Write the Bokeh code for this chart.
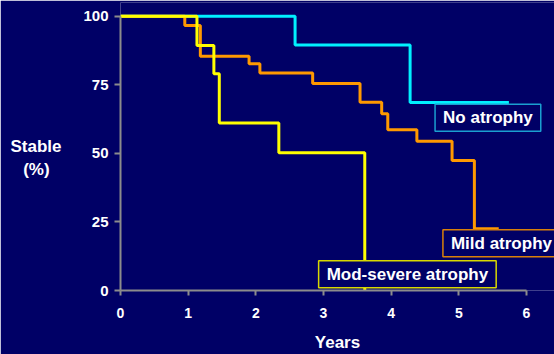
from bokeh.plotting import figure
from bokeh.models import Range1d, Label, FixedTicker
from bokeh.embed import file_html
from bokeh.resources import INLINE

# Kaplan-Meier style step data (years, % stable)
no_t = [0, 2.58, 4.28, 5.74]
no_s = [100, 89.5, 68.5, 68.5]

mild_t = [0, 0.95, 1.18, 1.90, 2.06, 2.84, 3.54, 3.86, 3.95, 4.38, 4.90, 5.23, 5.59]
mild_s = [100, 96.6, 85.4, 82.7, 79.3, 75.5, 68.6, 64.4, 58.6, 54.4, 47.4, 22.5, 22.5]

mod_t = [0, 1.13, 1.38, 1.46, 2.34, 3.61]
mod_s = [100, 89.3, 79.0, 61.1, 50.2, 0]

x_ticks = [0, 1, 2, 3, 4, 5, 6]
y_ticks = [0, 25, 50, 75, 100]

BG = "#000066"
FONT = "Liberation Sans"

p = figure(width=554, height=354, output_backend="svg", toolbar_location=None,
           x_range=Range1d(0, 6.414), y_range=Range1d(0, 105),
           min_border_left=120, min_border_right=0, min_border_top=2, min_border_bottom=64)
p.background_fill_color = BG
p.border_fill_color = BG
p.outline_line_color = None
p.grid.grid_line_color = None

for ax, ticks, bnd in ((p.xaxis, x_ticks, (0, 6)), (p.yaxis, y_ticks, (0, 100))):
    ax.ticker = FixedTicker(ticks=ticks)
    ax.bounds = bnd
    ax.axis_line_color = "#8c8c8c"
    ax.axis_line_width = 2
    ax.major_tick_line_color = "#8c8c8c"
    ax.major_tick_line_width = 2
    ax.minor_tick_line_color = None
    ax.major_tick_in = 0
    ax.major_label_text_color = "white"
    ax.major_label_text_font = FONT
    ax.major_label_text_font_style = "bold"
    ax.axis_label_text_color = "white"
    ax.axis_label_text_font = FONT
    ax.axis_label_text_font_style = "bold"
    ax.axis_label_text_font_size = "17px"

p.xaxis.major_label_text_font_size = "14px"
p.xaxis.major_tick_out = 5
p.xaxis.major_label_standoff = 12
p.xaxis.axis_label = "Years"
p.xaxis.axis_label_standoff = 12

p.yaxis.major_label_text_font_size = "15px"
p.yaxis.major_tick_out = 6
p.yaxis.major_label_standoff = 6
p.yaxis.axis_label = "\nStable\n(%)\u2002\u2009"
p.yaxis.axis_label_orientation = "horizontal"
p.yaxis.axis_label_standoff = 19

p.step(no_t, no_s, mode="after", line_color="#00f0ff", line_width=3)
p.step(mild_t, mild_s, mode="after", line_color="#ff9900", line_width=3)
p.step(mod_t, mod_s, mode="after", line_color="#ffff00", line_width=3)

def box(text, x, y, border):
    lab = Label(x=x, y=y, text=text, text_align="center", text_baseline="middle",
                text_color="white", text_font=FONT, text_font_style="bold",
                text_font_size="17px", background_fill_color=BG,
                border_line_color=border, border_line_width=1.5,
                padding=dict(left=8, right=8, top=4, bottom=4))
    p.add_layout(lab)

box("No atrophy", 5.43, 63.0, "#1a9fd0")
box("Mild atrophy", 5.63, 17.2, "#d9800a")
box("Mod-severe atrophy", 4.24, 5.9, "#d8d800")

open("out.html", "w").write(file_html(p, INLINE))
